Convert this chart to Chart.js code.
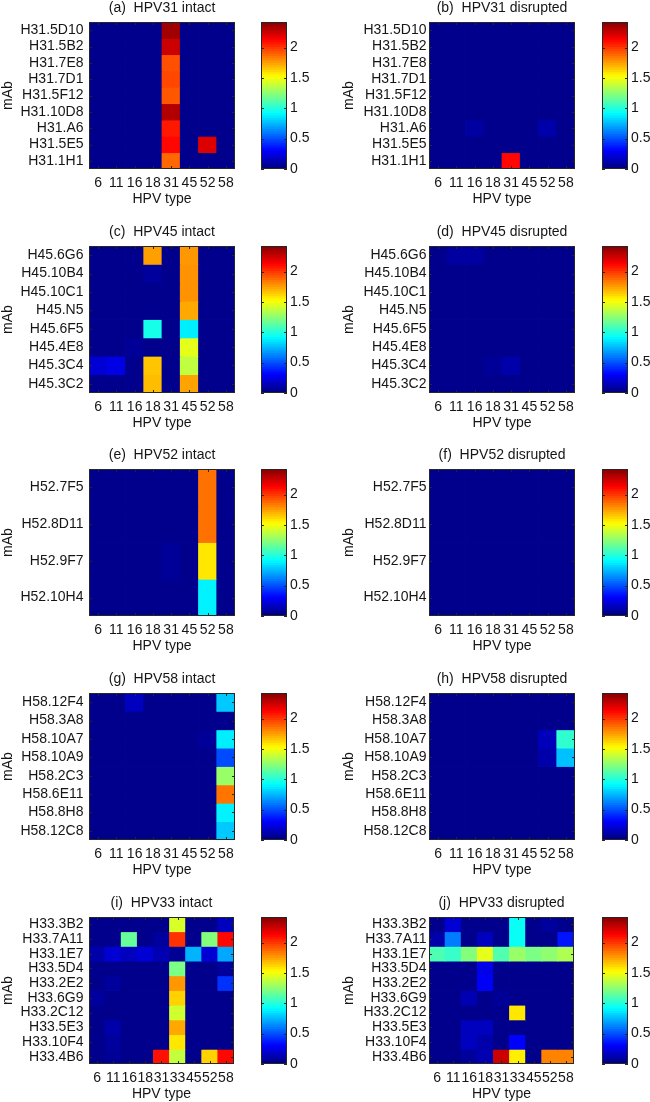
<!DOCTYPE html>
<html><head><meta charset="utf-8">
<script src="https://cdn.jsdelivr.net/npm/chart.js@4.4.1/dist/chart.umd.min.js"></script>
<style>
html,body{margin:0;padding:0;background:#fff;width:650px;height:1102px;overflow:hidden;position:relative}
canvas{position:absolute}
</style></head><body>
<script>
// ---------------- data ----------------
const typesA = ['6','11','16','18','31','45','52','58'];
const typesB = ['6','11','16','18','31','33','45','52','58'];

const mAbs31 = ['H31.5D10','H31.5B2','H31.7E8','H31.7D1','H31.5F12','H31.10D8','H31.A6','H31.5E5','H31.1H1'];
const mAbs45 = ['H45.6G6','H45.10B4','H45.10C1','H45.N5','H45.6F5','H45.4E8','H45.3C4','H45.3C2'];
const mAbs52 = ['H52.7F5','H52.8D11','H52.9F7','H52.10H4'];
const mAbs58 = ['H58.12F4','H58.3A8','H58.10A7','H58.10A9','H58.2C3','H58.6E11','H58.8H8','H58.12C8'];
const mAbs33 = ['H33.3B2','H33.7A11','H33.1E7','H33.5D4','H33.2E2','H33.6G9','H33.2C12','H33.5E3','H33.10F4','H33.4B6'];

const hpv31Intact = [
  [0.03,0.03,0.03,0.03,2.34,0.03,0.03,0.03],
  [0.03,0.03,0.03,0.03,2.24,0.03,0.03,0.03],
  [0.03,0.03,0.03,0.03,1.93,0.03,0.03,0.03],
  [0.03,0.03,0.03,0.03,1.95,0.03,0.03,0.03],
  [0.03,0.03,0.03,0.03,1.91,0.03,0.03,0.03],
  [0.03,0.03,0.03,0.03,2.30,0.03,0.03,0.03],
  [0.03,0.03,0.03,0.03,2.06,0.03,0.03,0.03],
  [0.03,0.03,0.03,0.03,2.10,0.03,2.20,0.03],
  [0.03,0.03,0.03,0.03,1.87,0.03,0.03,0.03]
];
const hpv31Disrupted = [
  [0.03,0.03,0.03,0.03,0.03,0.03,0.03,0.03],
  [0.03,0.03,0.03,0.03,0.03,0.03,0.03,0.03],
  [0.03,0.03,0.03,0.03,0.03,0.03,0.03,0.03],
  [0.03,0.03,0.03,0.03,0.03,0.03,0.03,0.03],
  [0.03,0.03,0.03,0.03,0.03,0.03,0.03,0.03],
  [0.03,0.03,0.03,0.03,0.03,0.03,0.03,0.03],
  [0.03,0.03,0.08,0.03,0.03,0.03,0.10,0.03],
  [0.03,0.03,0.03,0.03,0.03,0.03,0.03,0.03],
  [0.03,0.03,0.03,0.03,2.10,0.03,0.03,0.03]
];
const hpv45Intact = [
  [0.03,0.03,0.03,1.74,0.03,1.76,0.03,0.03],
  [0.03,0.03,0.03,0.07,0.03,1.77,0.03,0.03],
  [0.03,0.03,0.03,0.03,0.03,1.77,0.03,0.03],
  [0.03,0.03,0.03,0.03,0.03,1.72,0.03,0.03],
  [0.03,0.03,0.03,0.96,0.03,0.87,0.03,0.03],
  [0.03,0.03,0.06,0.03,0.03,1.45,0.03,0.03],
  [0.20,0.24,0.03,1.65,0.03,1.36,0.03,0.03],
  [0.03,0.03,0.03,1.67,0.03,1.73,0.03,0.03]
];
const hpv45Disrupted = [
  [0.03,0.08,0.08,0.03,0.03,0.03,0.03,0.03],
  [0.03,0.03,0.03,0.03,0.03,0.03,0.03,0.03],
  [0.03,0.03,0.03,0.03,0.03,0.03,0.03,0.03],
  [0.03,0.03,0.03,0.03,0.03,0.03,0.03,0.03],
  [0.03,0.03,0.03,0.03,0.03,0.03,0.03,0.03],
  [0.03,0.03,0.03,0.03,0.03,0.03,0.03,0.03],
  [0.03,0.03,0.03,0.06,0.10,0.03,0.03,0.03],
  [0.03,0.03,0.03,0.03,0.03,0.03,0.03,0.03]
];
const hpv52Intact = [
  [0.03,0.03,0.03,0.03,0.03,0.03,1.85,0.03],
  [0.03,0.03,0.03,0.03,0.03,0.03,1.85,0.03],
  [0.03,0.03,0.03,0.03,0.06,0.03,1.57,0.03],
  [0.03,0.03,0.03,0.03,0.03,0.03,0.88,0.03]
];
const hpv52Disrupted = [
  [0.03,0.03,0.03,0.03,0.03,0.03,0.03,0.03],
  [0.03,0.03,0.03,0.03,0.03,0.03,0.03,0.03],
  [0.03,0.03,0.03,0.03,0.03,0.03,0.03,0.03],
  [0.03,0.03,0.03,0.03,0.03,0.03,0.03,0.03]
];
const hpv58Intact = [
  [0.03,0.03,0.15,0.03,0.03,0.03,0.03,0.78],
  [0.03,0.03,0.03,0.03,0.03,0.03,0.03,0.03],
  [0.03,0.03,0.03,0.03,0.03,0.03,0.06,0.87],
  [0.03,0.03,0.03,0.03,0.03,0.03,0.03,0.48],
  [0.03,0.03,0.03,0.03,0.03,0.03,0.03,1.27],
  [0.03,0.03,0.03,0.03,0.03,0.03,0.03,1.84],
  [0.03,0.03,0.03,0.03,0.03,0.03,0.03,0.88],
  [0.03,0.03,0.03,0.03,0.03,0.03,0.03,0.78]
];
const hpv58Disrupted = [
  [0.03,0.03,0.03,0.03,0.03,0.03,0.03,0.03],
  [0.03,0.03,0.03,0.03,0.03,0.03,0.03,0.03],
  [0.03,0.03,0.03,0.03,0.03,0.03,0.14,1.02],
  [0.03,0.03,0.03,0.03,0.03,0.03,0.10,0.76],
  [0.03,0.03,0.03,0.03,0.03,0.03,0.03,0.03],
  [0.03,0.03,0.03,0.03,0.03,0.03,0.03,0.03],
  [0.03,0.03,0.03,0.03,0.03,0.03,0.03,0.03],
  [0.03,0.03,0.03,0.03,0.03,0.03,0.03,0.03]
];
const hpv33Intact = [
  [0.03,0.03,0.03,0.03,0.03,1.42,0.03,0.03,0.15],
  [0.03,0.03,1.15,0.03,0.07,2.00,0.03,1.22,2.10],
  [0.10,0.20,0.15,0.20,0.12,0.05,0.73,0.20,0.70],
  [0.03,0.03,0.03,0.03,0.03,1.20,0.03,0.03,0.07],
  [0.03,0.07,0.03,0.03,0.03,1.76,0.03,0.03,0.42],
  [0.07,0.03,0.03,0.03,0.03,1.62,0.03,0.03,0.03],
  [0.03,0.03,0.03,0.03,0.03,1.40,0.03,0.03,0.03],
  [0.03,0.10,0.03,0.03,0.03,1.72,0.03,0.03,0.03],
  [0.03,0.07,0.03,0.03,0.03,1.57,0.03,0.03,0.03],
  [0.03,0.06,0.03,0.03,2.08,1.37,0.03,1.62,2.10]
];
const hpv33Disrupted = [
  [0.03,0.20,0.03,0.03,0.03,0.93,0.03,0.07,0.03],
  [0.10,0.60,0.03,0.15,0.03,0.93,0.03,0.03,0.35],
  [1.09,1.04,1.22,1.45,1.10,1.27,1.20,1.25,1.32],
  [0.03,0.03,0.03,0.25,0.03,0.03,0.03,0.03,0.03],
  [0.03,0.03,0.03,0.28,0.03,0.03,0.03,0.03,0.03],
  [0.03,0.03,0.12,0.03,0.06,0.03,0.03,0.03,0.03],
  [0.03,0.03,0.03,0.03,0.03,1.57,0.03,0.03,0.03],
  [0.03,0.03,0.15,0.15,0.03,0.03,0.03,0.03,0.03],
  [0.03,0.03,0.15,0.10,0.03,0.30,0.03,0.03,0.03],
  [0.03,0.03,0.07,0.12,2.24,1.55,0.03,1.81,1.81]
];

const colorbarTicks = [0, 0.5, 1, 1.5, 2];
const colorMax = 2.42;

const panels = [
  {title:'(a)  HPV31 intact',    rows:mAbs31, types:typesA, values:hpv31Intact},
  {title:'(b)  HPV31 disrupted', rows:mAbs31, types:typesA, values:hpv31Disrupted},
  {title:'(c)  HPV45 intact',    rows:mAbs45, types:typesA, values:hpv45Intact},
  {title:'(d)  HPV45 disrupted', rows:mAbs45, types:typesA, values:hpv45Disrupted},
  {title:'(e)  HPV52 intact',    rows:mAbs52, types:typesA, values:hpv52Intact},
  {title:'(f)  HPV52 disrupted', rows:mAbs52, types:typesA, values:hpv52Disrupted},
  {title:'(g)  HPV58 intact',    rows:mAbs58, types:typesA, values:hpv58Intact},
  {title:'(h)  HPV58 disrupted', rows:mAbs58, types:typesA, values:hpv58Disrupted},
  {title:'(i)  HPV33 intact',    rows:mAbs33, types:typesB, values:hpv33Intact},
  {title:'(j)  HPV33 disrupted', rows:mAbs33, types:typesB, values:hpv33Disrupted}
];

// ---------------- layout ----------------
const plotTops = [22, 246, 469, 693, 917];
const columns = [
  {canvasLeft:0,   padRight:4, tickPad:5.5, titlePad:0, cbLeft:261},
  {canvasLeft:340, padRight:3, tickPad:2.5, titlePad:1, cbLeft:602}
];
const FONT = {family:'"Liberation Sans", Arial, Helvetica, sans-serif', size:14, weight:'normal', lineHeight:1.15};
const TEXT = '#151515';
const NOGRID = {display:false, drawTicks:false, tickLength:0};

function jet(t){
  t = Math.max(0, Math.min(1, t));
  const c = x => Math.round(255 * Math.max(0, Math.min(1, x)));
  return `rgb(${c(Math.min(4*t-1.5, -4*t+4.5))},${c(Math.min(4*t-0.5, -4*t+3.5))},${c(Math.min(4*t+0.5, -4*t+2.5))})`;
}

const framePlugin = {
  id:'frame',
  afterDatasetsDraw(chart){
    const {ctx, chartArea:a, scales} = chart;
    const L = Math.round(a.left), R = Math.round(a.right), T = Math.round(a.top), B = Math.round(a.bottom);
    const len = 3;
    ctx.save();
    ctx.strokeStyle = '#262626';
    ctx.lineWidth = 1;
    ctx.beginPath();
    if (scales.x && scales.x.options.display !== false) {
      scales.x.ticks.forEach((t, i) => {
        const px = Math.round(scales.x.getPixelForTick(i)) + 0.5;
        ctx.moveTo(px, B); ctx.lineTo(px, B - len);
        ctx.moveTo(px, T); ctx.lineTo(px, T + len);
      });
    }
    scales.y.ticks.forEach(t => {
      const py = Math.round(scales.y.getPixelForValue(t.value)) + 0.5;
      ctx.moveTo(L, py); ctx.lineTo(L + len, py);
      ctx.moveTo(R, py); ctx.lineTo(R - len, py);
    });
    ctx.stroke();
    ctx.strokeRect(L + 0.5, T + 0.5, R - L - 1, B - T - 1);
    ctx.restore();
  }
};

function makeCanvas(left, top, w, h){
  const c = document.createElement('canvas');
  c.width = w; c.height = h;
  c.style.left = left + 'px'; c.style.top = top + 'px';
  c.style.width = w + 'px'; c.style.height = h + 'px';
  document.body.appendChild(c);
  return c;
}

function heatmap(p, col, plotTop){
  const cv = makeCanvas(col.canvasLeft, plotTop - 22, 240, 208);
  new Chart(cv, {
    type:'bar',
    data:{
      labels:p.types,
      datasets:p.rows.map((name, r) => ({
        label:name,
        data:p.types.map(() => [r, r + 1]),
        backgroundColor:p.values[r].map(v => jet(v / colorMax)),
        grouped:false, barPercentage:1, categoryPercentage:1, borderWidth:0, inflateAmount:0.4
      }))
    },
    options:{
      responsive:false, animation:false, events:[], devicePixelRatio:1,
      layout:{padding:{left:0, right:col.padRight, top:0, bottom:0}},
      plugins:{legend:{display:false}, tooltip:{enabled:false}, title:{display:false}},
      scales:{
        x:{type:'category', position:'bottom', offset:true,
           grid:NOGRID, border:{display:false},
           ticks:{font:FONT, color:TEXT, padding:6, autoSkip:false, maxRotation:0, minRotation:0},
           title:{display:true, text:'HPV type', font:FONT, color:TEXT, padding:{top:0, bottom:0.5}},
           afterFit:s => { s.height = 39; }},
        xTop:{type:'category', axis:'x', position:'top', offset:true,
           grid:NOGRID, border:{display:false}, ticks:{display:false},
           title:{display:true, text:p.title, font:FONT, color:TEXT, padding:{top:0, bottom:0}},
           afterFit:s => { s.height = 22; }},
        y:{type:'linear', position:'left', min:0, max:p.rows.length, reverse:true,
           grid:NOGRID, border:{display:false},
           afterBuildTicks:s => { s.ticks = p.rows.map((_, i) => ({value:i + 0.5})); },
           ticks:{font:FONT, color:TEXT, padding:col.tickPad, autoSkip:false, callback:v => p.rows[Math.floor(v)]},
           title:{display:true, text:'mAb', font:FONT, color:TEXT, padding:{top:col.titlePad, bottom:0}},
           afterFit:s => { s.width = 89; }}
      }
    },
    plugins:[framePlugin]
  });
}

function colorbar(col, plotTop){
  const cv = makeCanvas(col.cbLeft, plotTop - 22, 66, 208);
  const n = 64;
  const levels = Array.from({length:n}, (_, i) => i);
  new Chart(cv, {
    type:'bar',
    data:{
      labels:['cb'],
      datasets:levels.map(i => ({
        data:[[i * colorMax / n, (i + 1) * colorMax / n]],
        backgroundColor:jet((i + 0.5) / n),
        grouped:false, barPercentage:1, categoryPercentage:1, borderWidth:0, inflateAmount:0.5
      }))
    },
    options:{
      responsive:false, animation:false, events:[], devicePixelRatio:1,
      layout:{padding:{left:0, right:0, top:22, bottom:39}},
      plugins:{legend:{display:false}, tooltip:{enabled:false}},
      scales:{
        x:{type:'category', display:false, offset:true},
        y:{type:'linear', position:'right', min:0, max:colorMax,
           grid:NOGRID, border:{display:false},
           afterBuildTicks:s => { s.ticks = colorbarTicks.map(v => ({value:v})); },
           ticks:{font:FONT, color:TEXT, padding:3, autoSkip:false, callback:v => String(v)},
           afterFit:s => { s.width = 40; }}
      }
    },
    plugins:[framePlugin]
  });
}

panels.forEach((p, k) => {
  const col = columns[k % 2];
  const top = plotTops[Math.floor(k / 2)];
  heatmap(p, col, top);
  colorbar(col, top);
});
</script>
</body></html>
